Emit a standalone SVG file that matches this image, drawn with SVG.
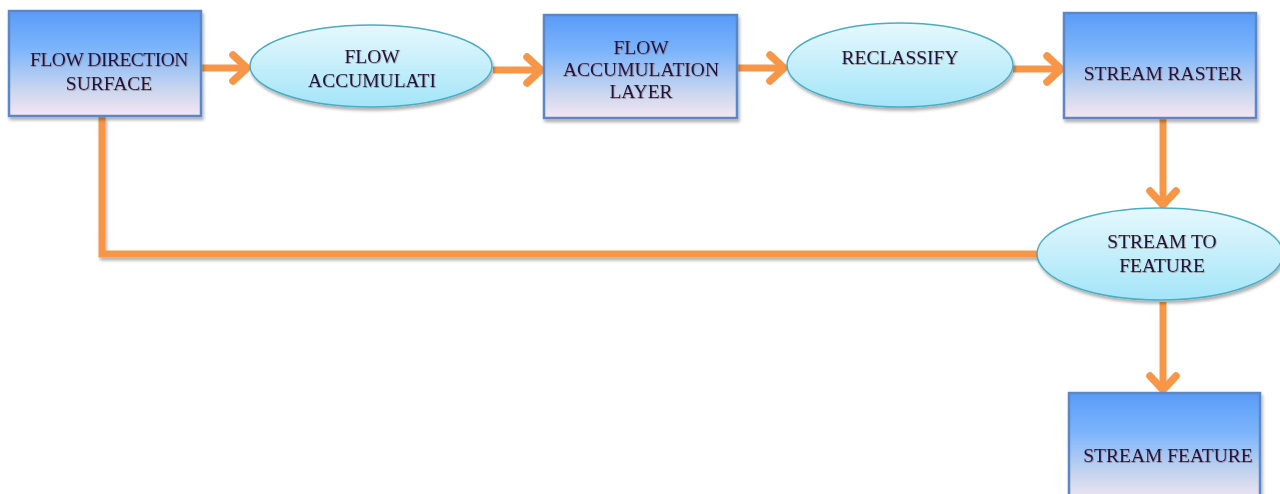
<svg xmlns="http://www.w3.org/2000/svg" width="1280" height="494" viewBox="0 0 1280 494">
<defs>
<linearGradient id="boxg" x1="0" y1="0" x2="0" y2="1">
<stop offset="0" stop-color="#5a9bf8"/>
<stop offset="0.35" stop-color="#7bb4fb"/>
<stop offset="0.75" stop-color="#c9d6ee"/>
<stop offset="1" stop-color="#f6e6f4"/>
</linearGradient>
<linearGradient id="ellg" x1="0" y1="0" x2="0" y2="1">
<stop offset="0" stop-color="#e6f8fd"/>
<stop offset="1" stop-color="#a3e5f8"/>
</linearGradient>
<filter id="sh" x="-10%" y="-10%" width="130%" height="140%">
<feDropShadow dx="1.5" dy="3" stdDeviation="1.5" flood-color="#000" flood-opacity="0.3"/>
</filter>
<filter id="tsh" x="-5%" y="-20%" width="110%" height="140%">
<feDropShadow dx="0.6" dy="0.8" stdDeviation="0.4" flood-color="#7a4a4a" flood-opacity="0.6"/>
</filter>
<marker id="arr" markerUnits="userSpaceOnUse" viewBox="0 0 24 34" refX="20" refY="17" markerWidth="24" markerHeight="34" orient="auto">
<path d="M5,4 L19,17 L5,30" fill="none" stroke="#f79646" stroke-width="7.5" stroke-linecap="round" stroke-linejoin="round"/>
</marker>
</defs>
<style>
.box{fill:url(#boxg);stroke:#5b87c7;stroke-width:2.5;filter:url(#sh)}
.ell{fill:url(#ellg);stroke:#4bacc6;stroke-width:1.5;filter:url(#sh)}
.t{font-family:"Liberation Serif","Times New Roman",serif;font-size:19.5px;fill:#1a1840;text-anchor:middle;filter:url(#tsh)}
.c{fill:none;stroke:#f79646;stroke-width:7;stroke-linejoin:miter}
</style>
<g id="connectors">
<path class="c" d="M102,117 L102,254 L1037,254" filter="url(#sh)"/>
<line class="c" x1="201" y1="68" x2="248" y2="68" marker-end="url(#arr)"/>
<line class="c" x1="493" y1="70" x2="542" y2="70" marker-end="url(#arr)"/>
<line class="c" x1="737" y1="68" x2="785" y2="68" marker-end="url(#arr)"/>
<line class="c" x1="1013" y1="69" x2="1062" y2="69" marker-end="url(#arr)"/>
<line class="c" x1="1163" y1="118" x2="1163" y2="206" marker-end="url(#arr)"/>
<line class="c" x1="1163" y1="302" x2="1163" y2="391" marker-end="url(#arr)"/>
</g>
<g id="flow-direction-surface">
<rect class="box" x="9" y="11" width="192" height="105"/>
<text class="t" x="109" y="66" letter-spacing="-0.5">FLOW DIRECTION</text>
<text class="t" x="109" y="90">SURFACE</text>
</g>
<g id="flow-accumulati">
<ellipse class="ell" cx="371" cy="66" rx="121" ry="41"/>
<text class="t" x="372" y="63">FLOW</text>
<text class="t" x="372" y="87">ACCUMULATI</text>
</g>
<g id="flow-accumulation-layer">
<rect class="box" x="544" y="15" width="193" height="103"/>
<text class="t" x="641" y="54">FLOW</text>
<text class="t" x="641" y="76">ACCUMULATION</text>
<text class="t" x="641" y="98">LAYER</text>
</g>
<g id="reclassify">
<ellipse class="ell" cx="900" cy="65" rx="113" ry="42"/>
<text class="t" x="900" y="64">RECLASSIFY</text>
</g>
<g id="stream-raster">
<rect class="box" x="1064" y="13" width="192" height="105"/>
<text class="t" x="1163" y="80">STREAM RASTER</text>
</g>
<g id="stream-to-feature">
<ellipse class="ell" cx="1160" cy="254" rx="123" ry="46"/>
<text class="t" x="1162" y="248">STREAM TO</text>
<text class="t" x="1162" y="272">FEATURE</text>
</g>
<g id="stream-feature">
<rect class="box" x="1069" y="393" width="191" height="110"/>
<text class="t" x="1168" y="462">STREAM FEATURE</text>
</g>
</svg>
